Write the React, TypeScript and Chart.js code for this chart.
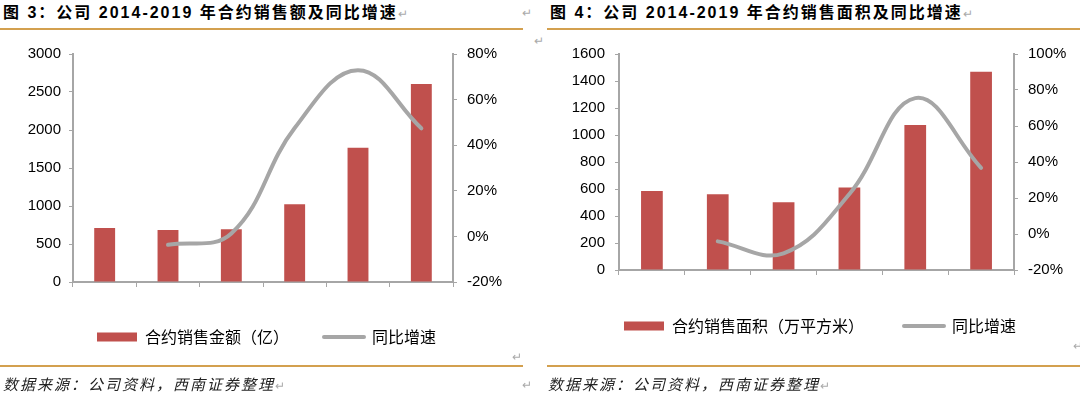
import React, { useEffect, useRef } from 'react';
import { Chart, registerables } from 'chart.js';

Chart.register(...registerables);

const years = ['2014', '2015', '2016', '2017', '2018', '2019'];
const salesAmount = [710, 684, 693, 1022, 1767, 2605];
const salesAmountGrowth = [null, -3.7, 1.3, 47.5, 72.9, 47.4];
const salesArea = [585, 561, 501, 612, 1074, 1469];
const salesAreaGrowth = [null, -4.1, -10.7, 22.2, 75.5, 36.8];

const amountAxis = [0, 3000, 500];
const amountGrowthAxis = [-20, 80, 20];
const areaAxis = [0, 1600, 200];
const areaGrowthAxis = [-20, 100, 20];

const legendAmount = ['合约销售金额（亿）', '同比增速'];
const legendArea = ['合约销售面积（万平方米）', '同比增速'];

const RED = '#c0504d';
const GRAY = '#a6a6a6';
const AXIS = '#a6a6a6';
const ORANGE = '#d3a04f';
const NUM_FONT = "'Liberation Sans', Arial, sans-serif";
const CJK_FONT = "'Noto Sans CJK SC', 'Liberation Sans', sans-serif";

type Layout = {
  yW: number;
  y1W: number;
  xH: number;
  padLeft: number;
  padRight: number;
  padTop: number;
  padBottom: number;
  legendPad: number;
  xLabelPad: number;
  yLabelPad: number;
  y1LabelPad: number;
};

function makeConfig(
  bars: number[],
  growth: (number | null)[],
  barAxis: number[],
  growthAxis: number[],
  legend: string[],
  L: Layout
): any {
  return {
    type: 'bar',
    data: {
      labels: years,
      datasets: [
        {
          type: 'line',
          label: legend[1],
          data: growth,
          yAxisID: 'y1',
          borderColor: GRAY,
          backgroundColor: GRAY,
          borderWidth: 4,
          borderCapStyle: 'round',
          tension: 0.4,
          pointRadius: 0,
          order: 0,
        },
        {
          type: 'bar',
          label: legend[0],
          data: bars,
          yAxisID: 'y',
          backgroundColor: RED,
          borderWidth: 0,
          barPercentage: 0.33,
          categoryPercentage: 1,
          order: 1,
        },
      ],
    },
    options: {
      responsive: false,
      animation: false,
      devicePixelRatio: 1,
      layout: {
        padding: { left: L.padLeft, right: L.padRight, top: L.padTop, bottom: L.padBottom },
      },
      plugins: {
        tooltip: { enabled: false },
        legend: {
          display: true,
          position: 'bottom',
          labels: {
            usePointStyle: true,
            pointStyleWidth: 40,
            boxWidth: 40,
            boxHeight: 9,
            padding: L.legendPad,
            color: '#111',
            font: { family: CJK_FONT, size: 16 },
            generateLabels: () => [
              {
                text: legend[0],
                fillStyle: RED,
                strokeStyle: RED,
                lineWidth: 0,
                pointStyle: 'rect',
                hidden: false,
                datasetIndex: 1,
              },
              {
                text: legend[1],
                fillStyle: GRAY,
                strokeStyle: GRAY,
                lineWidth: 4,
                lineCap: 'round',
                pointStyle: 'line',
                hidden: false,
                datasetIndex: 0,
              },
            ],
          },
        },
      },
      scales: {
        x: {
          type: 'category',
          offset: true,
          grid: {
            display: true,
            offset: true,
            drawOnChartArea: false,
            drawTicks: true,
            tickLength: 5,
            color: AXIS,
          },
          border: { display: true, color: AXIS, width: 2 },
          ticks: {
            color: '#000',
            padding: L.xLabelPad,
            font: { family: NUM_FONT, size: 15 },
            maxRotation: 0,
          },
          afterFit: (s: any) => {
            s.height = L.xH;
          },
        },
        y: {
          position: 'left',
          min: barAxis[0],
          max: barAxis[1],
          grid: {
            display: true,
            drawOnChartArea: false,
            drawTicks: true,
            tickLength: 4,
            color: AXIS,
          },
          border: { display: true, color: AXIS, width: 2 },
          ticks: {
            stepSize: barAxis[2],
            color: '#000',
            padding: L.yLabelPad,
            font: { family: NUM_FONT, size: 15 },
            callback: (v: number) => String(v),
          },
          afterFit: (s: any) => {
            s.width = L.yW;
          },
        },
        y1: {
          position: 'right',
          min: growthAxis[0],
          max: growthAxis[1],
          grid: {
            display: true,
            drawOnChartArea: false,
            drawTicks: true,
            tickLength: 4,
            color: AXIS,
          },
          border: { display: true, color: AXIS, width: 2 },
          ticks: {
            stepSize: growthAxis[2],
            color: '#000',
            padding: L.y1LabelPad,
            font: { family: NUM_FONT, size: 15 },
            callback: (v: number) => `${v}%`,
          },
          afterFit: (s: any) => {
            s.width = L.y1W;
          },
        },
      },
    },
  };
}

function ChartBox({ config, left, top, width, height }: any) {
  const ref = useRef<HTMLCanvasElement | null>(null);
  useEffect(() => {
    if (!ref.current) return;
    const chart = new Chart(ref.current, config);
    return () => chart.destroy();
  }, []);
  return (
    <canvas
      ref={ref}
      width={width}
      height={height}
      style={{ position: 'absolute', left, top, width, height }}
    />
  );
}

const leftLayout: Layout = {
  yW: 73,
  y1W: 80,
  xH: 12,
  padLeft: 0,
  padRight: 7,
  padTop: 24,
  padBottom: 10,
  legendPad: 35,
  xLabelPad: 6,
  yLabelPad: 8,
  y1LabelPad: 10,
};

const rightLayout: Layout = {
  yW: 59,
  y1W: 66,
  xH: 8,
  padLeft: 20,
  padRight: 0,
  padTop: 24,
  padBottom: 21,
  legendPad: 40,
  xLabelPad: 4,
  yLabelPad: 10,
  y1LabelPad: 10,
};

const markStyle: React.CSSProperties = {
  position: 'absolute',
  color: '#aaa',
  fontSize: 12,
  fontFamily: CJK_FONT,
  fontWeight: 'normal',
  fontStyle: 'normal',
  lineHeight: '14px',
};

const titleStyle: React.CSSProperties = {
  position: 'absolute',
  top: 2,
  fontFamily: "'Liberation Sans', 'Noto Sans CJK SC', sans-serif",
  fontWeight: 'bold',
  fontSize: 16,
  letterSpacing: '2px',
  lineHeight: '22px',
  whiteSpace: 'nowrap',
  color: '#000',
};

const sourceStyle: React.CSSProperties = {
  position: 'absolute',
  top: 374,
  fontFamily: CJK_FONT,
  fontStyle: 'italic',
  fontSize: 15,
  letterSpacing: '2px',
  lineHeight: '20px',
  whiteSpace: 'nowrap',
  color: '#222',
};

export default function App() {
  const leftConfig = makeConfig(salesAmount, salesAmountGrowth, amountAxis, amountGrowthAxis, legendAmount, leftLayout);
  const rightConfig = makeConfig(salesArea, salesAreaGrowth, areaAxis, areaGrowthAxis, legendArea, rightLayout);
  return (
    <div style={{ position: 'absolute', left: 0, top: 0, width: 1080, height: 397, background: '#fff', overflow: 'hidden' }}>
      <div style={{ ...titleStyle, left: 3 }}>
        图 3：公司 2014-2019 年合约销售额及同比增速
        <span style={{ color: '#aaa', fontWeight: 'normal', fontSize: 12, letterSpacing: 0 }}>↵</span>
      </div>
      <div style={{ ...titleStyle, left: 550 }}>
        图 4：公司 2014-2019 年合约销售面积及同比增速
        <span style={{ color: '#aaa', fontWeight: 'normal', fontSize: 12, letterSpacing: 0 }}>↵</span>
      </div>
      <div style={{ ...markStyle, left: 522, top: 5 }}>↵</div>
      <div style={{ ...markStyle, left: 534, top: 33 }}>↵</div>
      <div style={{ position: 'absolute', left: 0, top: 28, width: 523, height: 2, background: ORANGE }} />
      <div style={{ position: 'absolute', left: 547, top: 28, width: 533, height: 2, background: ORANGE }} />

      <ChartBox config={leftConfig} left={0} top={30} width={540} height={335} />
      <ChartBox config={rightConfig} left={540} top={30} width={540} height={335} />

      <div style={{ ...markStyle, left: 512, top: 349 }}>↵</div>
      <div style={{ ...markStyle, left: 1073, top: 338 }}>↵</div>
      <div style={{ position: 'absolute', left: 0, top: 365, width: 523, height: 2, background: ORANGE }} />
      <div style={{ position: 'absolute', left: 547, top: 365, width: 533, height: 2, background: ORANGE }} />

      <div style={{ ...sourceStyle, left: 3 }}>
        数据来源：公司资料，西南证券整理
        <span style={{ color: '#aaa', fontStyle: 'normal', fontSize: 12, letterSpacing: 0 }}>↵</span>
      </div>
      <div style={{ ...markStyle, left: 522, top: 377 }}>↵</div>
      <div style={{ ...sourceStyle, left: 548 }}>
        数据来源：公司资料，西南证券整理
        <span style={{ color: '#aaa', fontStyle: 'normal', fontSize: 12, letterSpacing: 0 }}>↵</span>
      </div>
    </div>
  );
}
